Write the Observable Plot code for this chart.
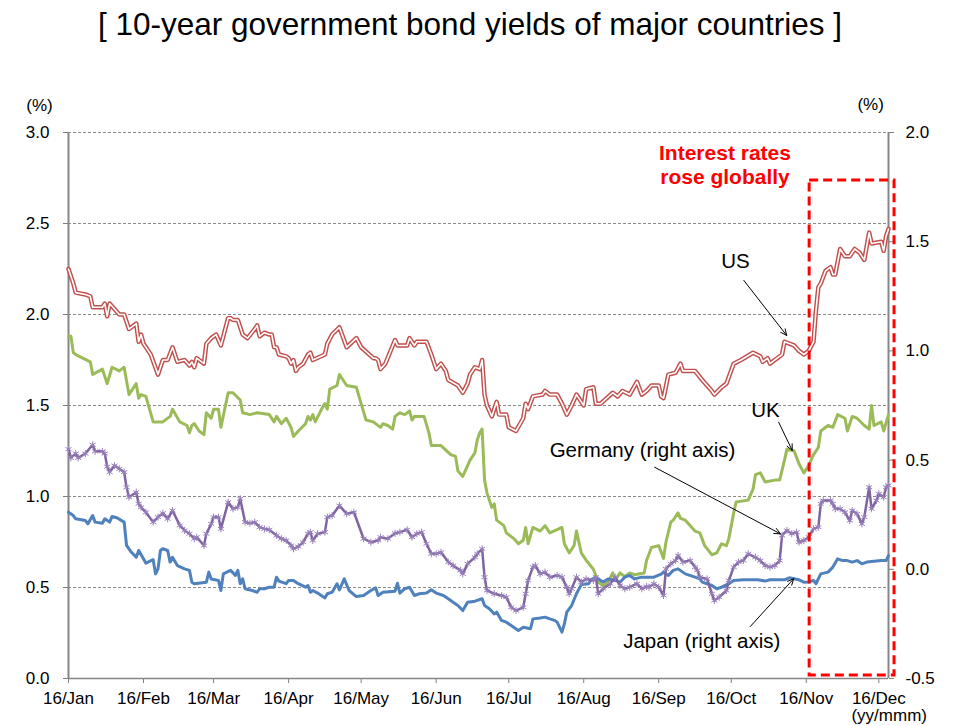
<!DOCTYPE html>
<html><head><meta charset="utf-8">
<script src="https://cdn.jsdelivr.net/npm/d3@7"></script>
<script src="https://cdn.jsdelivr.net/npm/@observablehq/plot@0.6"></script>
<style>
body{margin:0;background:#fff;font-family:"Liberation Sans",Arial,sans-serif;}
#title{width:940px;height:52px;line-height:48px;text-align:center;font-size:31.5px;color:#000;white-space:nowrap;}
</style></head><body>
<div id="title">[ 10-year government bond yields of major countries ]</div>
<div id="chart"></div>
<script>
// ---- data (x = day offset from 2016-01-01; values in %) ----
const usDays = [0,2,3,7,9,10,14,15,16,17,19,21,23,25,28,29,30,31,34,37,39,41,43,45,48,50,51,52,53,56,57,59,61,63,66,67,68,70,72,74,77,78,79,81,83,84,85,86,87,90,91,92,93,94,95,97,99,100,101,106,107,109,112,115,119,121,126,127,128,129,131,135,136,140,141,143,144,148,150,152,154,156,157,161,163,165,166,168,170,171,172,173,175,177,178,181,182,185,188,189,190,192,196,197,199,202,204,206,208,210,213,214,217,218,220,225,227,229,232,235,237,239,241,244,245,246,248,251,253,254,259,262,266,267,270,272,275,278,283,286,287,289,290,293,295,296,298,300,302,304,306,308,309,310,311,313,315,316,317,319,321,323,325,327,329,331,332,336,337,338,339];
const usYield = [2.25,2.17,2.12,2.11,2.10,2.04,2.04,2.06,1.99,2.06,2.03,2.00,2.00,1.92,1.95,1.85,1.89,1.84,1.78,1.67,1.75,1.75,1.82,1.74,1.75,1.72,1.74,1.71,1.76,1.73,1.84,1.87,1.89,1.83,1.98,1.98,1.97,1.97,1.89,1.87,1.92,1.94,1.88,1.90,1.89,1.89,1.82,1.82,1.78,1.77,1.76,1.73,1.75,1.69,1.71,1.73,1.78,1.79,1.75,1.78,1.84,1.89,1.93,1.82,1.87,1.82,1.76,1.76,1.75,1.70,1.73,1.86,1.83,1.83,1.87,1.83,1.85,1.85,1.78,1.70,1.73,1.69,1.64,1.61,1.57,1.62,1.67,1.71,1.70,1.75,1.56,1.50,1.44,1.52,1.45,1.45,1.38,1.36,1.43,1.51,1.48,1.55,1.56,1.58,1.56,1.56,1.51,1.45,1.50,1.56,1.50,1.59,1.60,1.51,1.51,1.57,1.55,1.58,1.56,1.63,1.56,1.58,1.61,1.61,1.55,1.54,1.67,1.68,1.73,1.69,1.69,1.64,1.58,1.56,1.60,1.62,1.73,1.75,1.79,1.77,1.74,1.76,1.73,1.76,1.78,1.85,1.84,1.83,1.80,1.78,1.80,1.85,2.02,2.15,2.17,2.24,2.26,2.22,2.22,2.36,2.32,2.32,2.36,2.34,2.30,2.45,2.39,2.40,2.35,2.43,2.47];

const ukDays = [0,1,2,3,9,10,14,16,18,21,23,25,28,29,30,32,35,39,42,43,46,49,50,51,52,54,56,57,59,60,62,63,66,68,71,72,75,78,83,85,86,88,90,92,93,95,98,99,100,101,102,105,106,107,108,111,112,115,119,123,126,129,130,132,134,135,137,139,141,142,143,147,149,150,154,158,160,161,163,166,168,169,170,171,172,173,175,176,177,180,181,184,186,187,188,189,190,192,195,197,199,204,205,207,209,210,212,214,217,219,221,223,225,226,228,230,232,234,238,239,241,244,246,247,249,250,252,253,255,259,261,263,266,268,270,272,273,275,276,281,283,284,286,288,292,294,296,297,300,302,304,306,308,310,311,314,316,318,321,322,324,326,329,331,332,333,336,337,339];
const ukYield = [1.88,1.88,1.79,1.78,1.74,1.67,1.70,1.62,1.71,1.69,1.71,1.56,1.62,1.54,1.56,1.55,1.41,1.41,1.44,1.48,1.41,1.39,1.35,1.39,1.40,1.36,1.34,1.46,1.43,1.48,1.48,1.38,1.57,1.57,1.53,1.46,1.45,1.46,1.45,1.41,1.44,1.40,1.43,1.38,1.33,1.36,1.40,1.44,1.42,1.45,1.41,1.49,1.51,1.48,1.59,1.61,1.67,1.61,1.60,1.42,1.41,1.38,1.40,1.39,1.37,1.44,1.46,1.45,1.47,1.42,1.44,1.44,1.35,1.28,1.28,1.23,1.22,1.14,1.11,1.20,1.24,1.31,1.35,1.37,1.09,1.02,0.94,0.96,0.87,0.84,0.80,0.77,0.74,0.75,0.76,0.83,0.74,0.83,0.81,0.84,0.80,0.83,0.74,0.69,0.73,0.81,0.69,0.65,0.60,0.53,0.51,0.53,0.58,0.54,0.58,0.56,0.58,0.57,0.58,0.65,0.72,0.73,0.66,0.75,0.86,0.87,0.91,0.88,0.87,0.81,0.80,0.73,0.68,0.69,0.74,0.73,0.77,0.91,0.97,0.98,1.04,1.12,1.13,1.08,1.09,1.09,1.20,1.26,1.25,1.18,1.13,1.17,1.23,1.27,1.36,1.39,1.38,1.45,1.43,1.36,1.44,1.43,1.39,1.37,1.50,1.39,1.41,1.36,1.45];

// Germany and Japan are read on the right axis
const deDays = [0,1,3,4,7,10,11,14,15,16,17,19,21,23,24,25,28,29,30,32,35,37,39,41,43,46,48,50,52,53,56,57,59,60,62,63,66,68,70,71,73,75,77,79,81,83,86,88,90,92,93,95,97,99,100,101,103,106,107,109,112,115,118,122,125,128,129,132,135,137,140,142,144,146,148,150,152,154,157,159,162,163,165,168,169,171,172,173,176,179,181,183,185,188,189,190,192,193,195,197,199,202,204,206,207,208,210,212,214,217,218,219,221,224,226,228,230,232,235,237,239,240,242,244,246,247,249,251,252,254,257,259,260,261,264,266,267,269,272,273,275,277,279,281,284,286,288,290,292,294,295,297,299,301,302,304,306,308,310,311,312,315,316,317,319,321,323,324,326,328,329,331,332,334,335,337,338,339];
const deYield = [0.55,0.51,0.53,0.51,0.53,0.57,0.54,0.54,0.53,0.47,0.445,0.475,0.46,0.445,0.376,0.33,0.353,0.30,0.284,0.261,0.216,0.239,0.257,0.231,0.269,0.201,0.178,0.163,0.14,0.147,0.109,0.163,0.208,0.239,0.239,0.185,0.307,0.277,0.284,0.323,0.216,0.211,0.216,0.193,0.185,0.181,0.155,0.14,0.132,0.109,0.094,0.104,0.124,0.163,0.17,0.132,0.163,0.17,0.239,0.246,0.292,0.254,0.261,0.14,0.124,0.132,0.147,0.14,0.165,0.17,0.181,0.147,0.163,0.17,0.117,0.071,0.071,0.078,0.033,0.017,-0.005,-0.021,0.025,0.055,0.071,0.094,-0.036,-0.097,-0.112,-0.12,-0.128,-0.174,-0.189,-0.174,-0.112,-0.051,0.01,0.017,-0.021,-0.013,-0.036,-0.028,-0.036,-0.082,-0.112,-0.089,-0.036,-0.059,-0.044,-0.051,-0.036,-0.112,-0.089,-0.066,-0.036,-0.074,-0.089,-0.082,-0.066,-0.089,-0.079,-0.082,-0.066,-0.082,-0.12,0.002,0.025,0.04,0.063,0.033,0.04,0.01,-0.005,-0.036,-0.044,-0.112,-0.143,-0.128,-0.097,-0.051,0.01,0.033,0.04,0.071,0.055,0.04,0.017,0.01,0.017,0.04,0.155,0.178,0.163,0.17,0.124,0.132,0.147,0.185,0.193,0.30,0.315,0.315,0.30,0.277,0.277,0.261,0.223,0.269,0.254,0.208,0.239,0.376,0.277,0.315,0.346,0.33,0.376,0.384];

const jpDays = [0,2,3,7,8,10,11,14,15,17,18,20,23,24,26,28,29,31,32,35,36,37,38,39,41,42,43,45,48,50,51,52,57,58,59,62,63,64,67,69,70,71,72,73,76,78,79,81,83,85,86,87,90,91,93,95,98,99,100,101,103,106,107,109,111,112,114,116,119,122,125,127,128,130,135,136,137,139,141,143,145,148,150,152,155,157,159,161,163,165,168,171,172,174,176,177,179,181,183,186,188,191,192,195,197,199,201,202,204,205,206,208,210,212,215,216,218,221,223,226,228,230,232,234,237,239,242,245,246,248,250,252,255,259,261,262,266,268,270,273,275,279,285,288,290,296,298,302,304,306,308,309,311,314,316,318,320,322,324,326,328,330,333,336,338,339];
const jpYield = [0.261,0.246,0.231,0.223,0.208,0.246,0.216,0.211,0.231,0.216,0.242,0.236,0.216,0.109,0.078,0.055,0.086,0.048,0.028,0.044,-0.021,0.002,0.086,0.094,0.086,0.033,0.055,0.017,0.002,-0.005,-0.059,-0.066,-0.059,-0.013,-0.044,-0.051,-0.097,-0.021,-0.005,-0.028,-0.005,-0.066,-0.044,-0.089,-0.097,-0.105,-0.089,-0.089,-0.082,-0.082,-0.036,-0.054,-0.066,-0.051,-0.051,-0.066,-0.082,-0.074,-0.105,-0.097,-0.109,-0.131,-0.112,-0.105,-0.066,-0.094,-0.044,-0.097,-0.125,-0.12,-0.097,-0.085,-0.12,-0.105,-0.1,-0.064,-0.109,-0.089,-0.082,-0.12,-0.112,-0.109,-0.094,-0.109,-0.12,-0.135,-0.151,-0.166,-0.189,-0.151,-0.146,-0.135,-0.166,-0.181,-0.204,-0.196,-0.234,-0.242,-0.257,-0.28,-0.265,-0.272,-0.227,-0.223,-0.219,-0.227,-0.234,-0.242,-0.288,-0.25,-0.196,-0.166,-0.112,-0.07,-0.066,-0.048,-0.036,-0.058,-0.044,-0.051,-0.059,-0.036,-0.028,-0.044,-0.036,-0.036,-0.036,-0.022,-0.013,-0.028,-0.005,0.002,-0.021,-0.036,-0.044,-0.059,-0.074,-0.089,-0.082,-0.066,-0.051,-0.048,-0.048,-0.054,-0.048,-0.048,-0.039,-0.048,-0.059,-0.058,-0.051,-0.066,-0.021,-0.013,0.01,0.048,0.04,0.04,0.033,0.04,0.025,0.033,0.037,0.04,0.04,0.063];

// ---- axes / labels ----
const leftTicks = [0, 0.5, 1.0, 1.5, 2.0, 2.5, 3.0];
const rightTicks = [-0.5, 0.0, 0.5, 1.0, 1.5, 2.0];
const monthLabels = ["16/Jan","16/Feb","16/Mar","16/Apr","16/May","16/Jun","16/Jul","16/Aug","16/Sep","16/Oct","16/Nov","16/Dec"];
const lastDay = 339;

// ---- annotations (day offset, left-axis value) ----
const labels = [
  {text: "US", day: 275.7, v: 2.294},
  {text: "UK", day: 288.1, v: 1.473},
  {text: "Germany (right axis)", day: 237.3, v: 1.253},
  {text: "Japan (right axis)", day: 261.8, v: 0.203}
];
const arrows = [
  {d1: 279.2, v1: 2.187, d2: 296.9, v2: 1.885},
  {d1: 293.6, v1: 1.408, d2: 299.2, v2: 1.253},
  {d1: 242.3, v1: 1.161, d2: 294.3, v2: 0.795},
  {d1: 281.9, v1: 0.286, d2: 299.8, v2: 0.548}
];
const callout = [{text: "Interest rates\nrose globally", day: 271.4, v: 2.823}];
const box = [{d1: 306.4, d2: 341.5, v1: 0.017, v2: 2.736}];

// ---- helpers ----
const start = Date.UTC(2016, 0, 1);
const toDate = n => new Date(start + n * 864e5);
const toLeft = r => (r + 0.5) * 1.2;          // right-axis value -> left-axis position
const series = (days, vals) => days.map((d, i) => ({date: toDate(d), v: vals[i]}));
const us = series(usDays, usYield);
const uk = series(ukDays, ukYield);
const de = series(deDays, deYield);
const jp = series(jpDays, jpYield);
const monthTicks = d3.utcMonth.range(toDate(0), toDate(336));

const chart = Plot.plot({
  width: 955, height: 674,
  marginTop: 80, marginBottom: 48, marginLeft: 68, marginRight: 67,
  style: {fontFamily: '"Liberation Sans", Arial, sans-serif', fontSize: "17px", color: "#000", background: "#fff", overflow: "visible"},
  x: {type: "utc", domain: [toDate(0), toDate(lastDay)]},
  y: {domain: [0, 3]},
  marks: [
    Plot.gridY(leftTicks.filter(t => t > 0), {stroke: "#8a8a8a", strokeOpacity: 1, strokeWidth: 1, strokeDasharray: "3,2"}),
    Plot.axisY(leftTicks, {anchor: "left", tickFormat: d => d.toFixed(1), tickSize: 5, tickPadding: 14, fontSize: 17, stroke: "#808080", label: null}),
    Plot.axisY(rightTicks.map(toLeft), {anchor: "right", tickFormat: d => (Math.round((d / 1.2 - 0.5) * 10) / 10).toFixed(1), tickSize: 5, tickPadding: 12, fontSize: 17, stroke: "#808080", label: null}),
    Plot.axisX(monthTicks, {anchor: "bottom", tickFormat: d => monthLabels[d.getUTCMonth()], tickSize: 5, tickPadding: 8, fontSize: 17, stroke: "#808080", label: null}),
    Plot.ruleX([toDate(0), toDate(lastDay)], {stroke: "#868686", strokeWidth: 2}),
    Plot.ruleY([0], {stroke: "#868686", strokeWidth: 1.5}),
    // US: double red line
    Plot.line(us, {x: "date", y: "v", stroke: "#C0504D", strokeWidth: 4.5, strokeLinejoin: "round"}),
    Plot.line(us, {x: "date", y: "v", stroke: "#ffffff", strokeWidth: 1.6, strokeLinejoin: "round"}),
    // UK
    Plot.line(uk, {x: "date", y: "v", stroke: "#9BBB59", strokeWidth: 3, strokeLinejoin: "round"}),
    // Japan (right axis)
    Plot.line(jp, {x: "date", y: d => toLeft(d.v), stroke: "#4F81BD", strokeWidth: 3, strokeLinejoin: "round"}),
    // Germany (right axis) with star markers
    Plot.line(de, {x: "date", y: d => toLeft(d.v), stroke: "#8064A2", strokeWidth: 2.5, strokeLinejoin: "round"}),
    Plot.dot(de, {x: "date", y: d => toLeft(d.v), symbol: "asterisk", r: 3.3, stroke: "#9a82bd", strokeWidth: 1}),
    // annotations
    Plot.rect(box, {x1: d => toDate(d.d1), x2: d => toDate(d.d2), y1: "v1", y2: "v2", fill: "none", stroke: "#ff0000", strokeWidth: 3, strokeDasharray: "9,5"}),
    Plot.arrow(arrows, {x1: d => toDate(d.d1), y1: "v1", x2: d => toDate(d.d2), y2: "v2", stroke: "#000", strokeWidth: 1, headLength: 10, headAngle: 50}),
    Plot.text(labels, {x: d => toDate(d.day), y: "v", text: "text", fontSize: 20.5, fill: "#000"}),
    Plot.text(callout, {x: d => toDate(d.day), y: "v", text: "text", fontSize: 21, fontWeight: "bold", fill: "#ff0000", lineHeight: 1.12}),
    // unit labels
    Plot.text([{t: "(%)", day: -12, v: 3.148}, {t: "(%)", day: 331.6, v: 3.154}, {t: "(yy/mmm)", day: 339.3, v: -0.203}], {x: d => toDate(d.day), y: "v", text: "t", fontSize: 17, fill: "#000"})
  ]
});
document.getElementById("chart").appendChild(chart);
</script>
</body></html>
